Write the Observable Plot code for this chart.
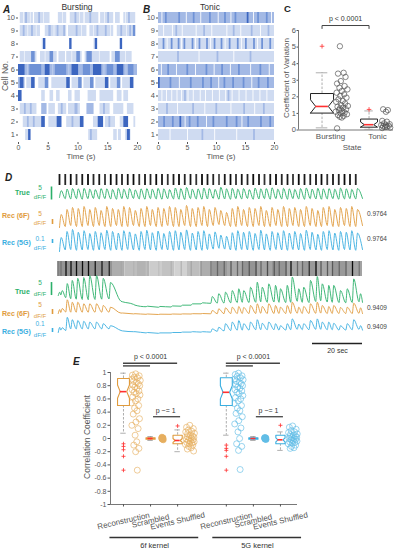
<!DOCTYPE html>
<html><head><meta charset="utf-8">
<script src="https://cdn.jsdelivr.net/npm/d3@7"></script>
<script src="https://cdn.jsdelivr.net/npm/@observablehq/plot@0.6"></script>
<style>
body{margin:0;background:#fff;}
#fig{position:relative;width:394px;height:550px;overflow:hidden;font-family:"Liberation Sans",Arial,Helvetica,sans-serif;background:#fff;}
#fig svg{position:absolute;}
.t{position:absolute;white-space:nowrap;line-height:1;}
</style></head><body><div id="fig"></div>
<script>
// ---------------- DATA ----------------
// Panel A/B
const cellIds = [10,9,8,7,6,5,4,3,2,1];
// bursting raster: [cell, start s, end s, level 0-4]
const burstSegs = [
 [10,0.3,2.5,1],[10,2.7,5.3,1],[10,6.7,8.1,1],[10,8.7,11,1],[10,11.2,13.5,1],[10,13.8,16,1],[10,16.3,17.1,1],[10,17.7,19.7,1],
 [10,1.2,1.5,2],[10,3.4,3.7,2],[10,9.5,9.8,2],[10,12,12.3,2],[10,15,15.3,2],[10,18.5,18.8,2],
 [10,0.9,1.0,0],[10,2.0,2.1,0],[10,4.2,4.3,0],[10,7.4,7.5,0],[10,10.3,10.4,0],[10,14.5,14.6,0],[10,18.0,18.1,0],
 [9,0.3,3.7,1],[9,4.5,8.1,1],[9,8.4,11.5,1],[9,12,16,1],[9,16.6,19.7,1],
 [9,0.8,1.1,2],[9,2.2,2.5,2],[9,5.1,5.5,2],[9,6.5,6.8,2],[9,7.6,7.9,2],[9,9.7,10,2],[9,13.2,13.5,2],[9,14.6,14.9,2],[9,17.2,17.5,2],[9,18.7,19,2],[9,19.3,19.7,3],
 [9,1.6,1.7,0],[9,3.0,3.1,0],[9,6.0,6.1,0],[9,10.6,10.7,0],[9,12.6,12.7,0],[9,15.5,15.6,0],[9,18.2,18.3,0],
 [8,4.0,4.2,1],[8,4.2,4.6,4],[8,8.6,9.0,4],[8,12.7,12.9,1],[8,12.9,13.3,4],[8,17.1,17.5,4],
 [7,0.3,3.1,1],[7,2.2,2.8,3],[7,3.7,6.5,1],[7,5.3,5.9,3],[7,6.8,7.9,1],[7,8.1,10.7,1],[7,9.8,10.4,3],[7,11.2,15.4,1],[7,11.5,12.4,3],[7,15.7,19.1,1],[7,16.3,17.1,3],
 [7,1.0,1.1,0],[7,4.5,4.6,0],[7,9.0,9.1,0],[7,13.6,13.7,0],[7,18.0,18.1,0],
 [6,0,20,2],[6,0,1.1,4],[6,1.9,3.9,3],[6,4.5,5.3,4],[6,6.2,8.1,3],[6,9,10.1,4],[6,10.9,12.1,3],[6,12.6,14,4],[6,14.9,16,3],[6,16.6,17.7,4],[6,18.5,19.4,3],
 [6,1.5,1.6,1],[6,5.8,5.9,1],[6,8.5,8.6,1],[6,14.4,14.5,1],[6,18.1,18.2,1],
 [5,0,1.1,2],[5,0.3,0.9,4],[5,1.4,2.5,1],[5,2.2,2.8,4],[5,3.4,4.6,1],[5,4.5,5.1,3],[5,5.6,8.1,1],[5,8.1,8.7,4],[5,9,10.1,1],[5,10.1,10.7,3],[5,11,12.1,1],[5,12.1,12.7,3],[5,13,14.6,1],[5,14.6,15.2,4],[5,15.5,16.6,1],[5,16.6,17.2,3],[5,17.5,18.8,1],[5,18.8,19.4,4],
 [4,0,0.6,4],[4,3.9,4.5,1],[4,5.3,5.9,1],[4,6.4,7,1],[4,8.4,9,1],[4,9.5,10.4,1],[4,11.7,13.1,1],[4,13.7,16,1],[4,16.6,17.4,1],[4,17.7,18.5,1],
 [3,0.3,3.1,1],[3,3.9,4.8,2],[3,5.1,6.2,1],[3,6.7,8.1,1],[3,8.4,10.4,1],[3,9.5,10,2],[3,11.5,12.7,2],[3,13.7,15.4,1],[3,16,17.7,1],[3,18.3,19.4,1],[3,1,1.3,2],[3,2,2.3,2],[3,7.2,7.5,2],[3,14.3,14.6,2],
 [2,0.8,4.5,1],[2,3.9,4.5,4],[2,5.1,7.3,1],[2,6.5,7.3,4],[2,8.1,11,1],[2,10.4,11,4],[2,12.6,14.3,1],[2,13.4,14.3,4],[2,14.6,16.3,1],[2,17.1,18.5,1],[2,17.7,18.5,4],[2,19.4,19.7,1],[2,1.5,1.8,2],[2,2.5,2.8,2],[2,9,9.3,2],[2,15.2,15.5,2],
 [1,1.2,2.1,1],[1,1.7,2.1,4],[1,11.8,13.3,1],[1,12.1,12.4,2],[1,16,16.6,1],[1,16.8,17.3,1],[1,18,18.9,1],[1,18.3,18.8,4]
];
// tonic raster: base level per cell (10..1) and stripes [cell, level, times]
const tonicBase = [2,1,1,1,2,2,1,1,2,1];
const tonicStripes = [
 [10,3,[1.2,3.5,6.0,8.8,11.4,13.2,17.1,18.6]],[10,4,[15.3]],[10,0,[0.6,4.8,7.3,10.3,12.5,16.4,19.5]],
 [9,0,[0.9,2.4,4.1,6.5,9.2,11.8,14.2,17.6]],[9,2,[3.0,7.8,12.9,16.0,18.9]],
 [8,3,[0.8,2.2,3.4,4.4,5.8,7.0,8.3,9.6,10.8,12.2,13.6,15.0,16.4,17.8,19.2]],[8,0,[1.5,4.0,6.4,9.0,11.5,14.3,17.1]],
 [7,2,[3.3,10.1,15.8]],[7,0,[7.0,13.0]],
 [6,3,[1.6,4.9,8.2,10.9,13.8,17.5]],[6,0,[0.5,3.1,6.4,9.6,12.4,15.9,19.1]],
 [5,4,[0.0]],[5,3,[2.0,5.5,7.6,9.0,11.3,12.8,14.6,17.2,18.8]],[5,0,[3.6,10.4,16.1]],
 [4,0,[0.6,1.4,2.3,3.2,4.0,5.1,6.0,7.2,8.1,9.3,10.5,11.6,12.7,13.9,15.1,16.3,17.5,18.7]],[4,2,[4.5,12.0]],
 [3,2,[1.4,5.9,9.9,14.7,18.1]],[3,0,[3.3,8.0,12.5,16.6]],
 [2,3,[0.9,2.4,5.3,6.7,9.4,11.7,13.4,15.4,17.6,19.2]],[2,4,[3.7]],[2,0,[4.6,8.3,14.4]],
 [1,0,[2.0,5.0,9.7,13.5]],[1,2,[7.5,16.4]]
];
const timeTicks = [0,5,10,15,20];

// Panel C
const cvStates = ["Bursting","Tonic"];
const cvBursting = [5.05,3.45,3.4,3.2,2.95,2.8,2.65,2.55,2.45,2.35,2.25,2.15,2.05,1.95,1.85,1.75,1.7,1.6,1.5,1.45,1.4,1.35,1.3,1.25,1.2,1.15,1.1,1.05,1.0,0.95,0.9,0.85,0.8,0.75,0.1];
const cvBurstJit = [0.2,0.28,0.16,0.32,0.22,0.14,0.3,0.19,0.36,0.24,0.13,0.29,0.21,0.34,0.17,0.26,0.12,0.31,0.23,0.37,0.15,0.27,0.2,0.33,0.18,0.25,0.11,0.3,0.22,0.35,0.16,0.28,0.2,0.24,0.14];
const cvTonic = [1.25,1.2,1.1,0.55,0.5,0.4,0.35,0.3,0.28,0.25,0.22,0.2,0.18,0.15,0.12];
const cvTonicJit = [0.12,0.22,0.18,0.1,0.2,0.14,0.26,0.08,0.18,0.24,0.12,0.2,0.16,0.27,0.1];
const cvQ1 = [1.02,0.17], cvMed = [1.42,0.32], cvQ3 = [2.2,0.66], cvNotch = [0.4,0.16];
const cvLo = [0.13,0.04], cvHi = [3.45,1.15], cvOut = [[5.05],[1.24]];
const cvP = "p < 0.0001";
const cvTicks = [0,1,2,3,4,5,6];

// Panel D
const topEvents = [0.8,3.1,5.3,7.6,9.9,12.2,14.4,16.7,19.0,21.3,23.6,25.8,28.1,30.4,32.7,35.0,37.2,39.5,41.8,44.1,46.4,48.6,50.9,53.2,55.5,57.8,60.0,62.3,64.6,66.9,69.2,71.4,73.7,76.0,78.3,80.6,82.8,85.1,87.4,89.7,92.0,94.2,96.5,98.8,101.1,103.4,105.6,107.9,110.2,112.5,114.8,117.0,119.3];
const topRasterDark = [0.9,0.85,0.95,0.8,0.9,0.95,0.85,0.9,0.8,0.95,0.9,0.85,0.9,0.95,0.8,0.9,0.85,0.95,0.9,0.8,0.9,0.95,0.85,0.9,0.8,0.95,0.9,0.85,0.7,0.9,0.95,0.8,0.9,0.85,0.95,0.9,0.8,0.9,0.95,0.85,0.9,0.8,0.95,0.9,0.85,0.9,0.95,0.8,0.9,0.85,0.95,0.9,0.85];
const greenTopPeak = [3.6,4.2,4.4,4.3,4.5,4.2,4.0,4.4,4.3,4.1,4.5,4.2,4.4,3.9,4.3,4.4,4.2,4.5,4.3,4.0,4.6,4.4,4.8,4.2,4.3,4.6,4.4,4.1,4.9,4.3,4.5,4.2,4.4,4.0,4.6,4.3,4.4,4.7,4.2,4.5,4.3,4.1,4.4,4.6,4.2,4.5,4.3,4.4,4.2,4.6,4.3,4.1,4.4];
const greenTopTrough = [1.0,0.5,0.4,0.5,0.3,0.5,0.6,0.4,0.5,0.4,0.3,0.5,0.4,0.6,0.4,0.3,0.5,0.4,0.3,0.5,0.4,0.3,0.2,0.5,0.4,0.3,0.4,0.6,0.3,0.4,0.3,0.5,0.4,0.6,0.3,0.4,0.5,0.3,0.5,0.4,0.3,0.5,0.4,0.3,0.5,0.4,0.3,0.4,0.5,0.3,0.4,0.5,0.4,0.6];
const orangeTopPeak = [13,18,20,19,21,18,20,17,21,19,18,21,20,17,19,21,18,20,19,21,20,18,22,19,20,21,18,20,17,15,19,21,18,20,19,21,17,20,18,21,19,20,18,21,19,17,20,21,18,20,19,21,18];
const orangeTopTrough = [0,1,2,1,1,2,1,2,1,1,2,1,1,2,1,1,2,1,1,2,1,1,2,1,1,2,1,2,3,2,1,1,2,1,1,2,1,1,2,1,1,2,1,1,2,1,1,2,1,1,2,1,1,2];
const blueTopPeak = [0.35,0.5,0.55,0.48,0.52,0.45,0.5,0.47,0.53,0.5,0.46,0.52,0.49,0.44,0.5,0.53,0.47,0.51,0.45,0.5,0.52,0.48,0.54,0.46,0.5,0.52,0.44,0.49,0.41,0.38,0.47,0.52,0.48,0.5,0.45,0.53,0.44,0.5,0.47,0.52,0.46,0.5,0.45,0.53,0.48,0.43,0.5,0.52,0.46,0.5,0.48,0.52,0.46];
const blueTopTrough = [0,0.04,0.05,0.03,0.04,0.05,0.03,0.04,0.05,0.03,0.04,0.03,0.05,0.04,0.03,0.05,0.04,0.03,0.05,0.04,0.03,0.04,0.05,0.03,0.04,0.03,0.05,0.06,0.08,0.06,0.04,0.03,0.05,0.04,0.03,0.05,0.04,0.03,0.05,0.04,0.03,0.05,0.04,0.03,0.05,0.04,0.03,0.05,0.04,0.03,0.05,0.04,0.03,0.05];
const corrTop = "0.9764";

const bottomPeakT = [0.9,1.9,3.9,5.9,8.1,10.5,12.9,15.6,18.3,21.2, 26,31,36,41,46,50,54,58, 61.9,64.5,67.2,69.9,72.5,74.5,77.2,79.9,81.9,84.5,87.2,89.2,91.9,93.9,96.5,98.5,101.2,103.9,105.9,108.5,110.5,113.2,115.9,118.5,121.2];
const bottomRasterDark = [0.5,0.55,0.95,0.95,0.95,0.95,0.95,0.9,0.9,0.85, 0.35,0.3,0.25,0.25,0.3,0.3,0.35,0.4, 0.55,0.6,0.6,0.65,0.6,0.6,0.65,0.7,0.6,0.7,0.65,0.6,0.65,0.95,0.6,0.6,0.8,0.95,0.65,0.65,0.65,0.6,0.6,0.95,0.55];
const bottomRasterBg = [[0,22,0.42],[22,27,0.32],[27,32,0.26],[32,37,0.3],[37,42,0.2],[42,47,0.24],[47,52,0.18],[52,57,0.26],[57,62,0.32],[62,68,0.4],[68,74,0.34],[74,80,0.42],[80,86,0.36],[86,92,0.42],[92,98,0.35],[98,104,0.4],[104,110,0.34],[110,116,0.4],[116,122,0.36]];
const greenBotPeak = [5.9,6.5,9.2,10.4,11.2,11.5,12.3,12.3,11.2,9.6, 2.2,0.9,0.5,0.4,0.6,0.9,1.4,1.8, 4.2,5.3,5.9,6.5,7.2,6.5,7.8,9.7,7.8,9.1,8.5,7.2,8.5,11.7,7.2,7.8,10.4,11.9,9.1,8.5,8.5,6.5,7.2,11.0,5.3];
const greenBotTrough = [4.6,4.8,3.8,3.4,3.2,3.1,3.0,3.1,3.2,3.3, 2.4,1.2,0.3,0.1,0.2,0.5,0.9,1.4, 1.6,1.7,1.7,1.8,1.9,2.0,1.9,2.0,2.2,2.0,2.1,2.0,1.9,2.0,2.4,2.0,1.9,2.3,2.6,2.1,2.0,1.9,1.8,1.9,2.2,2.0];
const orangeBotPeak = [5,6,14.7,12.3,12.3,10.7,10.7,10.7,9,7.3, 1.5,0.8,0.5,0.3,0.5,0.6,0.8,1.0, 4,5.7,6.7,7.3,8,7,9,10.7,8,10.7,9,7.3,9,12.3,7.3,8,10.7,12.3,9,8,9,7,7.3,11.3,6.7];
const orangeBotTrough = [1,2,2.5,2.3,2.3,2.3,2.3,2.3,2.3,2.3, 1.4,0.6,0.2,0,0.2,0.3,0.5,0.7, 0.7,0.8,0.8,0.9,1,1,1,1,1.2,1,1,1,1,1,1.3,1,1,1.2,1.4,1,1,1,1,1,1.2,1];
const blueBotPeak = [0.13,0.12,0.38,0.32,0.3,0.28,0.26,0.26,0.22,0.17, 0.04,0.02,0.0,-0.01,0.0,0.01,0.02,0.02, 0.09,0.13,0.22,0.26,0.3,0.22,0.26,0.32,0.23,0.26,0.22,0.17,0.22,0.34,0.21,0.22,0.3,0.34,0.26,0.26,0.23,0.17,0.22,0.32,0.17];
const blueBotTrough = [0,0.06,0.05,0.09,0.09,0.09,0.09,0.09,0.09,0.09, 0.05,0.02,-0.01,-0.02,-0.01,0,0.01,0.01, 0.01,0.03,0.04,0.05,0.06,0.06,0.06,0.07,0.07,0.07,0.07,0.06,0.06,0.07,0.08,0.07,0.07,0.08,0.08,0.07,0.07,0.06,0.06,0.07,0.08,0.06];
const corrBottom = "0.9409";
const scaleBarSec = 20;

// Panel E
const ccKernels = ["6f kernel","5G kernel"];
const ccMethods = ["Reconstruction","Scrambled","Events Shuffled"];
const recon6f = [0.98,0.96,0.95,0.93,0.92,0.9,0.88,0.87,0.85,0.83,0.81,0.8,0.78,0.76,0.74,0.72,0.7,0.68,0.66,0.63,0.6,0.57,0.54,0.5,0.46,0.42,0.37,0.3,0.25,0.2,0.15,0.05,-0.05,-0.1,-0.15,-0.2,-0.48];
const scr6f = [0.02,0.01,0,0,-0.01,-0.02,0.005,-0.005];
const shuf6f = [0.2,0.17,0.15,0.13,0.11,0.1,0.08,0.07,0.05,0.04,0.03,0.02,0.01,0,-0.01,-0.02,-0.03,-0.04,-0.05,-0.06,-0.07,-0.08,-0.09,-0.1,-0.12,-0.14,-0.16,-0.19];
const recon5g = [0.99,0.97,0.95,0.94,0.92,0.9,0.89,0.87,0.85,0.83,0.82,0.8,0.78,0.76,0.74,0.72,0.7,0.68,0.65,0.62,0.6,0.57,0.53,0.5,0.46,0.42,0.38,0.33,0.27,0.22,0.16,0.1,0.0,-0.08,-0.12,-0.18,-0.47];
const scr5g = [0.015,0.01,0,0,-0.01,-0.015,0.005,-0.005];
const shuf5g = [0.19,0.17,0.14,0.12,0.1,0.09,0.07,0.06,0.05,0.04,0.03,0.02,0.01,0,0,-0.01,-0.02,-0.03,-0.04,-0.05,-0.06,-0.07,-0.08,-0.1,-0.12,-0.14,-0.15];
const ccJit = [0.45,0.33,0.58,0.4,0.52,0.3,0.62,0.37,0.48,0.55,0.35,0.6,0.42,0.5,0.32,0.57,0.39,0.47,0.61,0.34,0.53,0.44,0.29,0.56,0.41,0.5,0.36,0.59,0.46,0.31,0.54,0.43,0.49,0.38,0.57,0.45,0.51,0.4];
const ccScrJit = [0.42,0.46,0.44,0.45,0.43,0.47,0.41,0.44];
const ccQ1 = [0.5,-0.01,-0.08, 0.5,-0.01,-0.08];
const ccMed = [0.71,0,-0.03, 0.7,0,-0.02];
const ccQ3 = [0.91,0.01,0.05, 0.92,0.01,0.05];
const ccNotch = [0.1,0.005,0.03, 0.1,0.005,0.03];
const ccLo = [0.08,-0.03,-0.2, 0.05,-0.03,-0.18];
const ccHi = [0.99,0.03,0.13, 0.99,0.03,0.1];
const ccOut = [[-0.08,-0.12,-0.17,-0.27,-0.48],[],[0.19],[-0.1,-0.15,-0.18,-0.27,-0.48],[],[0.2]];
const ccPvals = ["p < 0.0001","p ~= 1"];
const ccTicks = [-1,-0.8,-0.6,-0.4,-0.2,0,0.2,0.4,0.6,0.8,1];

// ---------------- STYLE / HELPERS ----------------
const FONT = '"Liberation Sans", Arial, Helvetica, sans-serif';
const baseStyle = {fontFamily: FONT, fontSize: "7.5px", color: "#555", overflow: "visible", background: "transparent"};
const blues = ["#ffffff","#cfdbf1","#a3b9e5","#6f92d6","#3c66c0"];
const G = "#2bb06a", O = "#e09b3d", BL = "#3aaee0";
const OP = "#e6ae5f", BP = "#62bde6";
const RED = "#ff3030";
const fig = document.getElementById("fig");
function place(svg, left, top) { svg.style.left = left + "px"; svg.style.top = top + "px"; fig.appendChild(svg); }
function txt(s, x, y, o = {}) {
  const el = document.createElement("div");
  el.className = "t"; el.textContent = s;
  el.style.left = x + "px"; el.style.top = y + "px";
  el.style.fontSize = (o.size || 8) + "px";
  el.style.color = o.color || "#444";
  if (o.bold) el.style.fontWeight = "bold";
  if (o.italic) el.style.fontStyle = "italic";
  const ax = o.anchor === "start" ? "0%" : o.anchor === "end" ? "-100%" : "-50%";
  el.style.transform = `translate(${ax},-50%)` + (o.rotate ? ` rotate(${o.rotate}deg)` : "");
  fig.appendChild(el);
}
function notchPoly(cx, hw, q1, med, q3, notch, g) {
  const ind = hw * 0.45;
  const lo = Math.max(q1, med - notch), hi = Math.min(q3, med + notch);
  return [[cx-hw,q1],[cx-hw,lo],[cx-hw+ind,med],[cx-hw,hi],[cx-hw,q3],[cx+hw,q3],[cx+hw,hi],[cx+hw-ind,med],[cx+hw,lo],[cx+hw,q1],[cx-hw,q1]]
    .map(([x, y]) => ({x, y, g}));
}

// ---------------- PANELS A & B ----------------
function rasterChart(segs, left, marginRight) {
  const svg = Plot.plot({
    width: 140, height: 160, marginLeft: 18, marginRight, marginTop: 10, marginBottom: 18,
    style: baseStyle,
    x: {domain: [0, 20]},
    y: {type: "band", domain: cellIds, paddingInner: 0.14, paddingOuter: 0.07},
    color: {type: "ordinal", domain: [0,1,2,3,4], range: blues},
    marks: [
      Plot.barX(segs, {x1: d => d[1], x2: d => d[2], y: d => d[0], fill: d => d[3]}),
      Plot.axisX({ticks: timeTicks, tickFormat: d => String(d), tickSize: 2, tickPadding: 1, label: null, fontSize: 7}),
      Plot.axisY({tickSize: 2, tickPadding: 1.5, label: null, fontSize: 7.5})
    ]
  });
  place(svg, left, 0);
}
rasterChart(burstSegs, 0, 3);
const tonicSegs = [];
cellIds.forEach((c, i) => tonicSegs.push([c, 0, 20, tonicBase[i]]));
tonicStripes.forEach(([c, lvl, ts]) => ts.forEach(t => tonicSegs.push([c, t, t + (lvl === 0 ? 0.15 : 0.3), lvl])));
rasterChart(tonicSegs, 140, 6);

// ---------------- PANEL C ----------------
{
  const dom = [1 - 32/47, 2 + 16/47];
  const off = -0.18, hws = [0.245, 0.18];
  const polys = [], stats = [], pts = [], outs = [];
  cvStates.forEach((s, i) => {
    const cx = i + 1 + off, hw = hws[i];
    polys.push(...notchPoly(cx, hw, cvQ1[i], cvMed[i], cvQ3[i], cvNotch[i], s));
    stats.push({cx, hw, ind: hw * 0.45, q1: cvQ1[i], q3: cvQ3[i], med: cvMed[i], lo: cvLo[i], hi: cvHi[i]});
    cvOut[i].forEach(v => outs.push({x: cx, y: v}));
  });
  cvBursting.forEach((v, j) => pts.push({x: 1 + cvBurstJit[j], y: v}));
  cvTonic.forEach((v, j) => pts.push({x: 2 + cvTonicJit[j], y: v}));
  const bx1 = 1 + off, bx2 = 2 + off;
  const svg = Plot.plot({
    width: 129, height: 160, marginLeft: 33, marginRight: 1, marginTop: 30, marginBottom: 30.5,
    style: baseStyle,
    x: {domain: dom}, y: {domain: [0, 6]},
    marks: [
      Plot.ruleX([dom[0]], {stroke: "#555", strokeWidth: 0.8}),
      Plot.ruleY([0], {stroke: "#555", strokeWidth: 0.8}),
      Plot.axisY({ticks: cvTicks, tickFormat: d => String(d), tickSize: 1.5, tickPadding: 1, label: null, fontSize: 7.5}),
      Plot.axisX({ticks: [1, 2], tickFormat: d => cvStates[d - 1], tickSize: 0, tickPadding: 3.5, label: null, fontSize: 8}),
      Plot.ruleX(stats, {x: "cx", y1: "q3", y2: "hi", stroke: "#999", strokeDasharray: "2.5,1.5", strokeWidth: 0.8}),
      Plot.ruleX(stats, {x: "cx", y1: "q1", y2: "lo", stroke: "#999", strokeDasharray: "2.5,1.5", strokeWidth: 0.8}),
      Plot.ruleY(stats, {y: "hi", x1: d => d.cx - d.hw * 0.5, x2: d => d.cx + d.hw * 0.5, stroke: "#999", strokeWidth: 0.8}),
      Plot.ruleY(stats, {y: "lo", x1: d => d.cx - d.hw * 0.5, x2: d => d.cx + d.hw * 0.5, stroke: "#999", strokeWidth: 0.8}),
      Plot.line(polys, {x: "x", y: "y", z: "g", fill: "white", stroke: "#222", strokeWidth: 1}),
      Plot.ruleY(stats, {y: "med", x1: d => d.cx - d.hw + d.ind, x2: d => d.cx + d.hw - d.ind, stroke: RED, strokeWidth: 1.6}),
      Plot.dot(outs, {x: "x", y: "y", symbol: "plus", r: 1.6, stroke: RED, strokeWidth: 0.8}),
      Plot.dot(pts, {x: "x", y: "y", r: 2.7, stroke: "#555", fill: "none", strokeWidth: 0.7}),
      Plot.line([[bx1, 6.12], [bx1, 6.3], [bx2, 6.3], [bx2, 6.12]], {stroke: "#444", strokeWidth: 1}),
      Plot.text([cvP], {x: (bx1 + bx2) / 2, y: 6.72, text: d => d, fontSize: 7, fill: "#333"})
    ]
  });
  place(svg, 265, 0);
}

// ---------------- PANEL D ----------------
const dX = {domain: [0, 122], axis: null};
function traceChart({times, trough, peak, pre, post, color, zeroPx, ppu, top, bottom, barX, barBase, bar}) {
  const pts = [];
  times.forEach((t, i) => { pts.push({t: t - pre, v: trough[i]}); pts.push({t: t + post, v: peak[i]}); });
  if (trough.length > times.length) pts.push({t: 122, v: trough[times.length]});
  const svg = Plot.plot({
    width: 394, height: bottom - top, margin: 0, marginLeft: 57, marginRight: 32,
    style: baseStyle,
    x: dX, y: {domain: [(zeroPx - bottom) / ppu, (zeroPx - top) / ppu], axis: null},
    marks: [
      Plot.line(pts, {x: "t", y: "v", stroke: color, strokeWidth: 0.9, curve: "monotone-x"}),
      Plot.ruleX([barX], {y1: barBase, y2: barBase + bar, stroke: color, strokeWidth: 1.6})
    ]
  });
  place(svg, 0, top);
}
// top raster
place(Plot.plot({
  width: 394, height: 11, margin: 0, marginLeft: 57, marginRight: 32, style: baseStyle, x: dX,
  color: {type: "linear", domain: [0, 1], range: ["#ffffff", "#000000"]},
  marks: [Plot.ruleX(topEvents.map((t, i) => ({t, k: topRasterDark[i]})), {x: "t", stroke: "k", strokeWidth: 1.8})]
}), 0, 174);
traceChart({times: topEvents, trough: greenTopTrough, peak: greenTopPeak, pre: 0, post: 0.7, color: G, zeroPx: 199.5, ppu: 2.6, top: 184, bottom: 201, barX: -2.4, barBase: 0, bar: 5});
traceChart({times: topEvents, trough: orangeTopTrough, peak: orangeTopPeak, pre: 0, post: 0.7, color: O, zeroPx: 227, ppu: 1, top: 202, bottom: 228, barX: -2.0, barBase: 3, bar: 5});
traceChart({times: topEvents, trough: blueTopTrough, peak: blueTopPeak, pre: 0, post: 0.7, color: BL, zeroPx: 251, ppu: 40, top: 227, bottom: 253, barX: -2.0, barBase: 0.2, bar: 0.1});
// bottom raster
place(Plot.plot({
  width: 394, height: 15, margin: 0, marginLeft: 57, marginRight: 32, style: baseStyle, x: dX, y: {domain: [0, 1], axis: null},
  color: {type: "linear", domain: [0, 1], range: ["#ffffff", "#000000"]},
  marks: [
    Plot.rect(bottomRasterBg, {x1: d => d[0], x2: d => d[1], y1: 0, y2: 1, fill: d => d[2]}),
    Plot.ruleX(bottomPeakT.map((t, i) => ({t: t - 0.5, k: bottomRasterDark[i]})), {x: "t", stroke: "k", strokeWidth: 1.3})
  ]
}), 0, 261);
traceChart({times: bottomPeakT, trough: greenBotTrough, peak: greenBotPeak, pre: 0.6, post: 0, color: G, zeroPx: 307, ppu: 2.6, top: 272, bottom: 310, barX: -2.4, barBase: 4.6, bar: 5});
traceChart({times: bottomPeakT, trough: orangeBotTrough, peak: orangeBotPeak, pre: 0.6, post: 0, color: O, zeroPx: 314, ppu: 1, top: 296, bottom: 318, barX: -2.0, barBase: 0, bar: 5});
traceChart({times: bottomPeakT, trough: blueBotTrough, peak: blueBotPeak, pre: 0.6, post: 0, color: BL, zeroPx: 332, ppu: 40, top: 314, bottom: 336, barX: -2.0, barBase: 0, bar: 0.1});
// 20 sec bar
place(Plot.plot({
  width: 394, height: 22, marginTop: 7, marginBottom: 5, marginLeft: 57, marginRight: 32, style: baseStyle, x: dX, y: {domain: [0, 1], axis: null},
  marks: [
    Plot.ruleY([1], {x1: 122 - scaleBarSec, x2: 122, stroke: "#222", strokeWidth: 1.3}),
    Plot.text([`${scaleBarSec} sec`], {x: 122 - scaleBarSec / 2, y: 0.3, text: d => d, fontSize: 7, fill: "#333"})
  ]
}), 0, 336);

// ---------------- PANEL E ----------------
{
  const dom = [0.52, 7.43];
  const pos = (k, m) => m + 1 + k * 3.8;
  const hws = [0.22, 0.17, 0.17];
  const groups = [recon6f, scr6f, shuf6f, recon5g, scr5g, shuf5g];
  const polys = [[], []], stats = [], pts = [[], []], outs = [];
  ccKernels.forEach((k, ki) => ccMethods.forEach((m, mi) => {
    const i = ki * 3 + mi, cx = pos(ki, mi), hw = hws[mi];
    polys[ki].push(...notchPoly(cx, hw, ccQ1[i], ccMed[i], ccQ3[i], ccNotch[i], k + m));
    stats.push({cx, hw, ind: hw * 0.45, q1: ccQ1[i], q3: ccQ3[i], med: ccMed[i], lo: ccLo[i], hi: ccHi[i]});
    ccOut[i].forEach(v => outs.push({x: cx, y: v}));
    const jit = mi === 1 ? ccScrJit : ccJit;
    groups[i].forEach((v, j) => pts[ki].push({x: cx + jit[j % jit.length], y: v, scr: mi === 1}));
  }));
  const labels = [];
  ccKernels.forEach((k, ki) => ccMethods.forEach((m, mi) => labels.push({x: pos(ki, mi), m})));
  const kern = ccKernels.map((k, ki) => ({k, ki}));
  const whisk = {stroke: "#999", strokeDasharray: "2.5,1.5", strokeWidth: 0.8};
  const svg = Plot.plot({
    width: 394, height: 205, marginLeft: 110, marginRight: 97, marginTop: 27, marginBottom: 46,
    style: baseStyle,
    x: {domain: dom}, y: {domain: [-1, 1]},
    marks: [
      Plot.ruleX([dom[0]], {stroke: "#555", strokeWidth: 0.8}),
      Plot.ruleY([-1], {stroke: "#555", strokeWidth: 0.8}),
      Plot.axisY({ticks: ccTicks, tickFormat: d => String(d), tickSize: 2.5, tickPadding: 1.5, label: null, fontSize: 7}),
      Plot.axisX({ticks: labels.map(d => d.x), tickFormat: () => "", tickSize: 2.5, label: null}),
      Plot.text(labels, {x: "x", y: -1.25, text: "m", rotate: -13, fontSize: 8, fill: "#555"}),
      Plot.ruleY(kern, {y: -1.5, x1: d => pos(d.ki, 0) - 0.5, x2: d => pos(d.ki, 2) + 0.78, stroke: "#333", strokeWidth: 1.3}),
      Plot.text(kern, {x: d => pos(d.ki, 1) + 0.15, y: -1.62, text: "k", fontSize: 7.5, fill: "#333"}),
      Plot.ruleX(stats, {x: "cx", y1: "q3", y2: "hi", ...whisk}),
      Plot.ruleX(stats, {x: "cx", y1: "q1", y2: "lo", ...whisk}),
      Plot.ruleY(stats, {y: "hi", x1: d => d.cx - 0.1, x2: d => d.cx + 0.1, stroke: "#999", strokeWidth: 0.8}),
      Plot.ruleY(stats, {y: "lo", x1: d => d.cx - 0.1, x2: d => d.cx + 0.1, stroke: "#999", strokeWidth: 0.8}),
      Plot.dot(pts[0], {x: "x", y: "y", r: 3, stroke: OP, strokeOpacity: 0.8, fill: d => d.scr ? OP : "none", strokeWidth: 0.8}),
      Plot.dot(pts[1], {x: "x", y: "y", r: 3, stroke: BP, strokeOpacity: 0.8, fill: d => d.scr ? BP : "none", strokeWidth: 0.8}),
      Plot.line(polys[0], {x: "x", y: "y", z: "g", fill: "white", stroke: O, strokeWidth: 1.1}),
      Plot.line(polys[1], {x: "x", y: "y", z: "g", fill: "white", stroke: BL, strokeWidth: 1.1}),
      Plot.ruleY(stats, {y: "med", x1: d => d.cx - d.hw + d.ind, x2: d => d.cx + d.hw - d.ind, stroke: RED, strokeWidth: 1.6}),
      Plot.dot(outs, {x: "x", y: "y", symbol: "plus", r: 1.4, stroke: RED, strokeWidth: 0.8}),
      Plot.ruleY(kern, {y: 1.14, x1: d => pos(d.ki, 0), x2: d => pos(d.ki, 2), stroke: "#444", strokeWidth: 1.4}),
      Plot.ruleY(kern, {y: 1.1, x1: d => pos(d.ki, 0), x2: d => pos(d.ki, 1), stroke: "#444", strokeWidth: 1.4}),
      Plot.text(kern, {x: d => pos(d.ki, 1), y: 1.24, text: () => ccPvals[0], fontSize: 7, fill: "#333"}),
      Plot.ruleY(kern, {y: 0.33, x1: d => pos(d.ki, 1) + 0.11, x2: d => pos(d.ki, 2) + 0.11, stroke: "#444", strokeWidth: 1.3}),
      Plot.text(kern, {x: d => pos(d.ki, 1) + 0.56, y: 0.42, text: () => ccPvals[1], fontSize: 7, fill: "#333"})
    ]
  });
  place(svg, 0, 345);
}

// ---------------- TEXT LABELS ----------------
txt("A", 3, 10, {size: 10, bold: true, italic: true, color: "#222", anchor: "start"});
txt("Bursting", 77, 7, {size: 8.5, color: "#333"});
txt("B", 143, 10, {size: 10, bold: true, italic: true, color: "#222", anchor: "start"});
txt("Tonic", 210, 7, {size: 8.5, color: "#333"});
txt("Cell No.", 5, 76, {size: 8.5, color: "#555", rotate: -90});
txt("Time (s)", 81, 157, {size: 8, color: "#555"});
txt("Time (s)", 221, 157, {size: 8, color: "#555"});
txt("C", 284, 9, {size: 9.5, bold: true, color: "#222", anchor: "start"});
txt("Coefficient of Variation", 287, 78, {size: 8, color: "#555", rotate: -90});
txt("State", 352, 148, {size: 8, color: "#555"});
txt("D", 5, 178, {size: 10, bold: true, italic: true, color: "#222", anchor: "start"});
txt("E", 73, 362, {size: 10, bold: true, italic: true, color: "#222", anchor: "start"});
txt("Correlation Coefficient", 87, 437, {size: 8.5, color: "#555", rotate: -90});
// D side labels
const sideLabels = [
  ["True", 15, 192, G], ["Rec (6F)", 2, 215, O], ["Rec (5G)", 2, 242, BL],
  ["True", 15, 291, G], ["Rec (6F)", 2, 313, O], ["Rec (5G)", 2, 331, BL]
];
sideLabels.forEach(([s, x, y, c]) => txt(s, x, y, {size: 7, bold: true, color: c, anchor: "start"}));
const barLabels = [
  ["5", 188, 196.5, G], ["5", 214, 223, O], ["0.1", 238.5, 247.5, BL],
  ["5", 283, 294, G], ["5", 304.5, 316, O], ["0.1", 323.5, 334.5, BL]
];
barLabels.forEach(([s, y1, y2, c]) => { txt(s, 40, y1, {size: 6.5, color: c}); txt("dF/F", 40, y2, {size: 6, color: c}); });
txt(corrTop, 367, 214, {size: 6.5, color: "#444", anchor: "start"});
txt(corrTop, 367, 238.5, {size: 6.5, color: "#444", anchor: "start"});
txt(corrBottom, 367, 308, {size: 6.5, color: "#444", anchor: "start"});
txt(corrBottom, 367, 327, {size: 6.5, color: "#444", anchor: "start"});
</script></body></html>
